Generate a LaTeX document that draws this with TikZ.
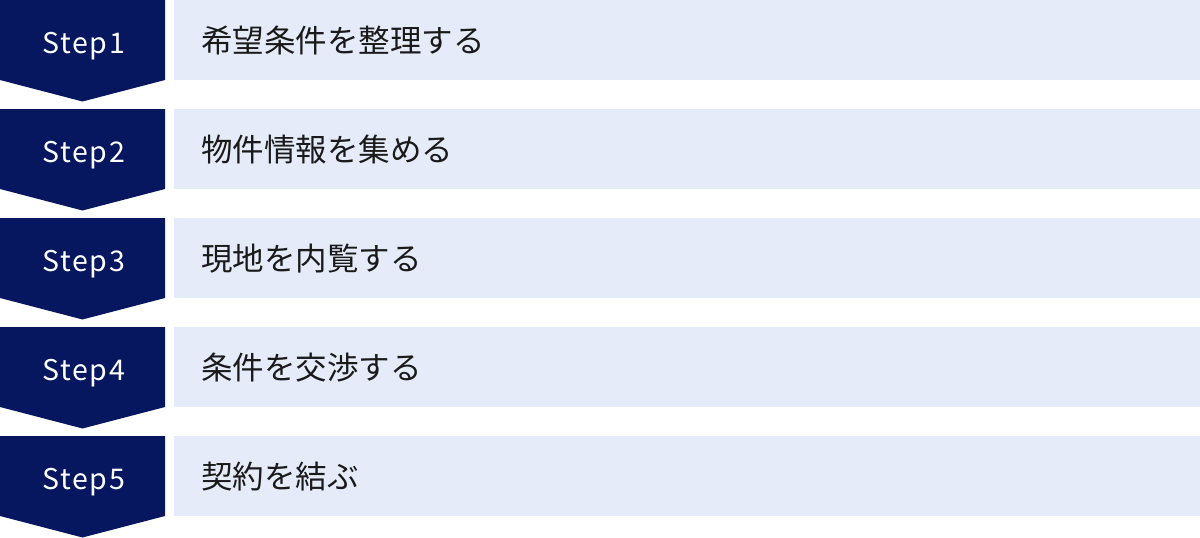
\documentclass[tikz,border=0pt]{standalone}
\usepackage{fontspec}
\setmainfont{Noto Sans CJK JP}
\newfontfamily\stepfont[LetterSpace=6]{Noto Sans CJK JP}
\definecolor{navy}{RGB}{6,23,96}
\definecolor{pale}{RGB}{229,235,249}
\definecolor{ink}{RGB}{26,26,26}
\begin{document}
\begin{tikzpicture}[x=1pt,y=-1pt,
  lightbox/.style={fill=pale,draw=none,minimum width=1026pt,minimum height=80pt,inner sep=0pt,anchor=north west},
  steplabel/.style={text=white,font=\stepfont\fontsize{28.5}{29}\selectfont,inner sep=0pt,anchor=base},
  tasklabel/.style={text=ink,font=\fontsize{31.5}{32}\selectfont,inner sep=0pt,anchor=west}]
\useasboundingbox (0,0) rectangle (1200,538);
\foreach \i/\t [count=\k from 0] in {1/希望条件を整理する,2/物件情報を集める,3/現地を内覧する,4/条件を交渉する,5/契約を結ぶ}{
  \pgfmathsetmacro\y{\k*109}
  \fill[navy] (0,\y) -- (165,\y) -- (165,\y+80) -- (82.5,\y+101.5) -- (0,\y+80) -- cycle;
  \node[steplabel] (s\i) at (83.5,\y+53) {Step\i};
  \node[lightbox] (b\i) at (174,\y) {};
  \node[tasklabel] (t\i) at (201,\y+40.5) {\t};
}
\end{tikzpicture}
\end{document}
